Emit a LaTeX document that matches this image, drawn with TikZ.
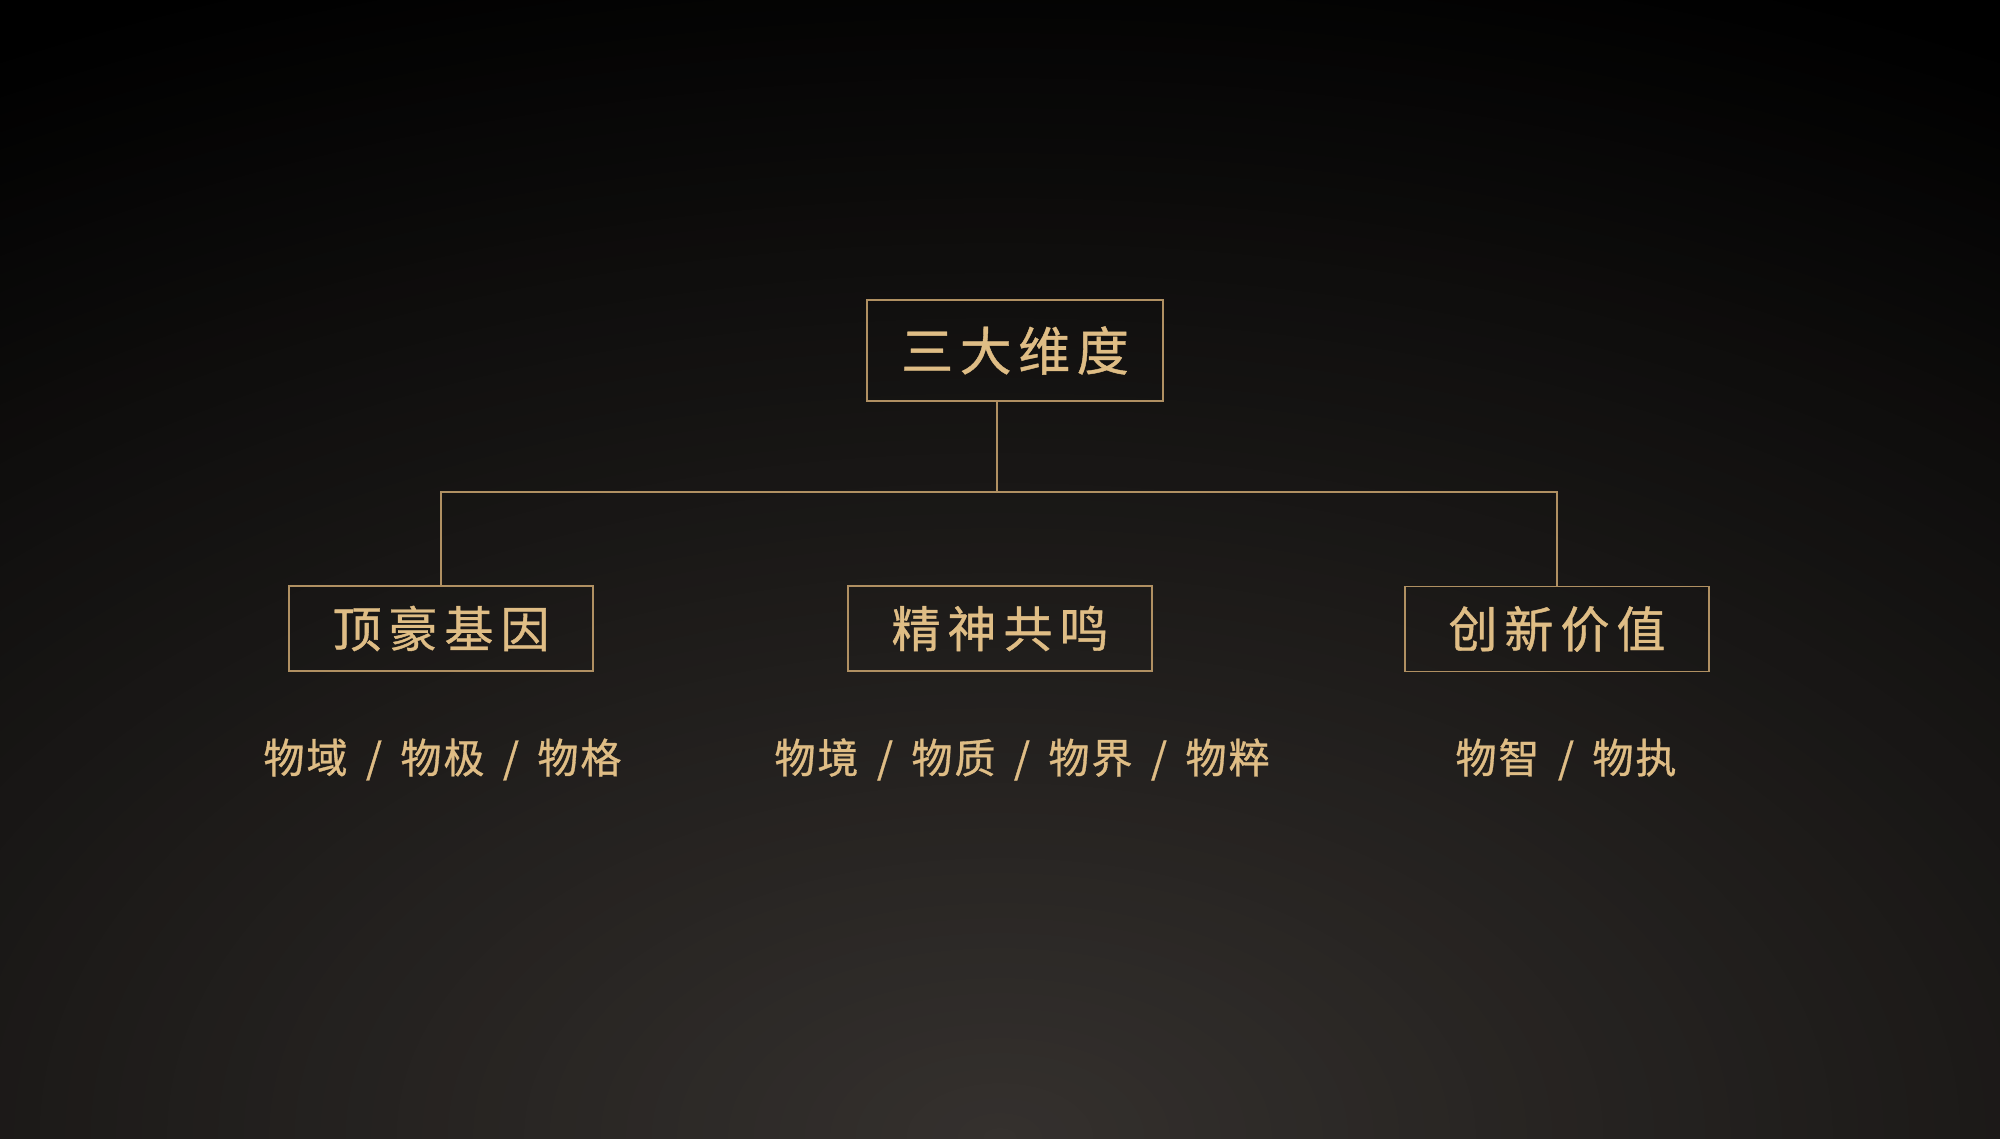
\documentclass[tikz,border=0pt]{standalone}
\usepackage{fontspec}
\setmainfont{Noto Sans CJK SC}[FakeBold=0.8]
\definecolor{gold}{HTML}{DFBD85}
\definecolor{goldline}{HTML}{B09062}
\definecolor{bgA}{HTML}{35312E}
\newcommand{\cgap}{\hspace{7pt}}
\newcommand{\tgap}{\hspace{6.5pt}}
\newcommand{\sgap}{\hspace{2pt}}
\newcommand{\slashsep}{\makebox[53pt]{/}}
\begin{document}
\begin{tikzpicture}[x=1pt,y=-1pt,
  box/.style={draw=goldline, line width=1.6pt, text=gold, minimum width=304pt, minimum height=85pt, inner sep=0pt, font=\fontsize{49}{56}\selectfont},
  topbox/.style={box, minimum width=296pt, minimum height=101pt, font=\fontsize{52}{60}\selectfont},
  sub/.style={text=gold, inner sep=0pt, font=\fontsize{41}{48}\selectfont},
  link/.style={draw=goldline, line width=1.6pt}]
\useasboundingbox (0,0) rectangle (2000,1138);
\begin{scope}
  \clip (0,0) rectangle (2000,1138);
  \fill[black] (0,0) rectangle (2000,1138);
  \foreach \i in {0,...,82}{
    \pgfmathsetmacro\rr{1240-15*\i}
    \pgfmathsetmacro\rx{1.7*\rr}
    \pgfmathsetmacro\pp{max(0,min(100,100*(52-0.042*\rr)/52))}
    \fill[bgA!\pp!black] (1000,1138) ellipse [x radius=\rx pt, y radius=\rr pt];
  }
\end{scope}
\node[topbox] (root) at (1015,350.5) {三\tgap 大\tgap 维\tgap 度};
\node[box] (a) at (441,628.5) {顶\cgap 豪\cgap 基\cgap 因};
\node[box] (b) at (1000,628.5) {精\cgap 神\cgap 共\cgap 鸣};
\node[box] (c) at (1557,629) {创\cgap 新\cgap 价\cgap 值};
\coordinate (j) at (997,492);
\draw[link] (root.south -| j) -- (j);
\draw[link] (a.north) |- (j) -| (c.north);
\node[sub] (a1) at (442.5,759.5) {物\sgap 域\slashsep 物\sgap 极\slashsep 物\sgap 格};
\node[sub] (b1) at (1022,759.5) {物\sgap 境\slashsep 物\sgap 质\slashsep 物\sgap 界\slashsep 物\sgap 粹};
\node[sub] (c1) at (1566,759.5) {物\sgap 智\slashsep 物\sgap 执};
\end{tikzpicture}
\end{document}
